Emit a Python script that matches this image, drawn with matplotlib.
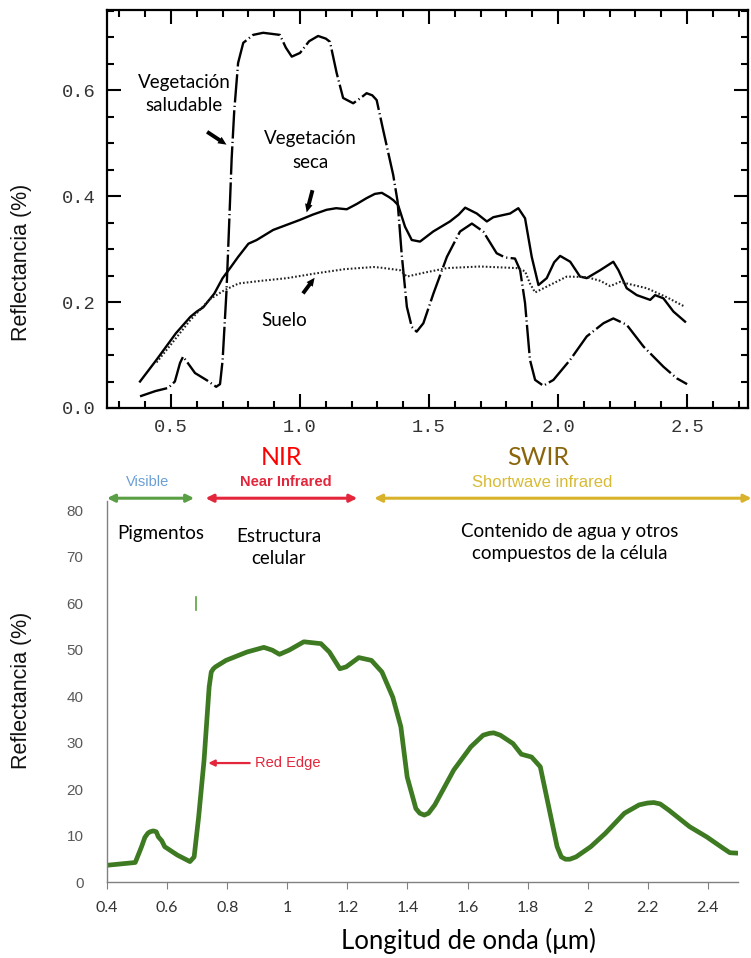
import matplotlib
matplotlib.use('Agg')
import matplotlib.pyplot as plt
from matplotlib.ticker import MultipleLocator, FixedLocator

# ---------------- Top chart data (reflectance fraction) ----------------
veg_sana_x = [0.38, 0.44, 0.49, 0.515, 0.535, 0.547, 0.565, 0.593, 0.64, 0.675, 0.69, 0.70,
              0.715, 0.724, 0.735, 0.745, 0.76, 0.78, 0.818, 0.857, 0.89, 0.922, 0.945,
              0.968, 1.0, 1.035, 1.07, 1.1, 1.116, 1.142, 1.167, 1.206, 1.235, 1.258, 1.28,
              1.297, 1.322, 1.361, 1.378, 1.394, 1.414, 1.433, 1.452, 1.478, 1.517, 1.569,
              1.62, 1.666, 1.71, 1.762, 1.795, 1.833, 1.853, 1.872, 1.891, 1.911, 1.943,
              1.982, 2.047, 2.111, 2.176, 2.214, 2.266, 2.331, 2.408, 2.46, 2.5]
veg_sana_y = [0.022, 0.032, 0.038, 0.05, 0.085, 0.097, 0.085, 0.066, 0.052, 0.040, 0.045, 0.09,
              0.22, 0.33, 0.47, 0.56, 0.651, 0.689, 0.704, 0.708, 0.706, 0.704, 0.68,
              0.663, 0.67, 0.692, 0.702, 0.697, 0.691, 0.632, 0.585, 0.575, 0.585, 0.594, 0.59,
              0.581, 0.525, 0.44, 0.39, 0.29, 0.191, 0.153, 0.144, 0.16, 0.216, 0.285,
              0.333, 0.348, 0.333, 0.292, 0.284, 0.282, 0.26, 0.198, 0.091, 0.053, 0.042,
              0.053, 0.091, 0.135, 0.16, 0.169, 0.157, 0.116, 0.078, 0.056, 0.045]

veg_seca_x = [0.38, 0.444, 0.519, 0.575, 0.60, 0.625, 0.668, 0.70, 0.729, 0.76, 0.80, 0.832,
              0.896, 1.0, 1.05, 1.103, 1.14, 1.181, 1.22, 1.258, 1.29, 1.317, 1.345, 1.362,
              1.38, 1.407, 1.433, 1.465, 1.516, 1.581, 1.615, 1.64, 1.685, 1.724, 1.749,
              1.814, 1.846, 1.872, 1.898, 1.924, 1.956, 1.985, 2.008, 2.047, 2.085, 2.111,
              2.163, 2.214, 2.234, 2.266, 2.305, 2.357, 2.376, 2.408, 2.447, 2.492]
veg_seca_y = [0.05, 0.091, 0.141, 0.172, 0.182, 0.19, 0.216, 0.245, 0.264, 0.285, 0.31, 0.317,
              0.336, 0.355, 0.365, 0.374, 0.377, 0.375, 0.385, 0.396, 0.404, 0.406, 0.398, 0.392,
              0.383, 0.342, 0.317, 0.314, 0.333, 0.352, 0.365, 0.378, 0.367, 0.352, 0.36,
              0.367, 0.377, 0.358, 0.285, 0.232, 0.245, 0.275, 0.287, 0.276, 0.248, 0.245,
              0.26, 0.276, 0.26, 0.226, 0.213, 0.204, 0.213, 0.207, 0.182, 0.163]

suelo_x = [0.444, 0.5, 0.575, 0.65, 0.706, 0.762, 0.85, 0.949, 1.061, 1.173, 1.285, 1.31,
           1.388, 1.414, 1.478, 1.569, 1.698, 1.84, 1.872, 1.891, 1.911, 1.956, 2.034, 2.111,
           2.163, 2.202, 2.24, 2.344, 2.421, 2.492]
suelo_y = [0.086, 0.12, 0.166, 0.205, 0.222, 0.235, 0.24, 0.245, 0.254, 0.262, 0.266, 0.265,
           0.26, 0.248, 0.255, 0.264, 0.267, 0.264, 0.258, 0.235, 0.218, 0.229, 0.248, 0.247,
           0.24, 0.23, 0.238, 0.226, 0.209, 0.191]

top_xticks = [0.5, 1.0, 1.5, 2.0, 2.5]
top_xticklabels = ['0.5', '1.0', '1.5', '2.0', '2.5']
top_yticks = [0.0, 0.2, 0.4, 0.6]
top_yticklabels = ['0.0', '0.2', '0.4', '0.6']

# ---------------- Bottom chart data (reflectance %) ----------------
hoja_x = [0.4, 0.494, 0.515, 0.526, 0.536, 0.543, 0.554, 0.564, 0.571, 0.582, 0.592, 0.634,
          0.676, 0.69, 0.705, 0.723, 0.74, 0.747, 0.754, 0.761, 0.796, 0.866, 0.922, 0.95,
          0.974, 1.006, 1.055, 1.112, 1.14, 1.175, 1.196, 1.238, 1.28, 1.315, 1.351, 1.378,
          1.399, 1.428, 1.441, 1.456, 1.47, 1.491, 1.554, 1.611, 1.652, 1.673, 1.687, 1.709,
          1.751, 1.779, 1.813, 1.842, 1.87, 1.898, 1.912, 1.926, 1.94, 1.961, 2.01, 2.059,
          2.122, 2.171, 2.199, 2.22, 2.241, 2.269, 2.339, 2.396, 2.452, 2.473, 2.5]
hoja_y = [3.6, 4.2, 7.6, 9.6, 10.5, 10.8, 11.0, 10.8, 9.7, 8.9, 7.6, 5.8,
          4.4, 5.4, 14.0, 26.2, 42.0, 45.2, 45.9, 46.3, 47.7, 49.5, 50.5, 49.9,
          49.0, 49.9, 51.7, 51.3, 49.5, 45.9, 46.3, 48.3, 47.7, 45.2, 39.8, 33.4,
          22.6, 15.8, 14.8, 14.4, 14.8, 16.6, 24.1, 29.1, 31.6, 32.0, 32.1, 31.6,
          29.8, 27.5, 26.9, 24.8, 16.2, 7.6, 5.4, 4.9, 4.9, 5.4, 7.6, 10.5,
          14.8, 16.6, 17.0, 17.1, 16.8, 15.5, 11.9, 9.7, 7.2, 6.3, 6.2]

bot_xticks = [0.4, 0.6, 0.8, 1.0, 1.2, 1.4, 1.6, 1.8, 2.0, 2.2, 2.4]
bot_xticklabels = ['0.4', '0.6', '0.8', '1', '1.2', '1.4', '1.6', '1.8', '2', '2.2', '2.4']
bot_yticks = [0, 10, 20, 30, 40, 50, 60, 70, 80]

W, H = 751, 958
fig = plt.figure(figsize=(W / 100, H / 100), dpi=100)

# ================= TOP CHART =================
ax1 = fig.add_axes([107 / W, 1 - 408 / H, 641 / W, 398 / H])
ax1.set_xlim(0.252, 2.736)
ax1.set_ylim(0, 0.751)

ax1.plot(veg_sana_x, veg_sana_y, color='black', lw=1.7,
         linestyle=(0, (12, 1.4, 0.5, 1.4)), solid_joinstyle='round', dash_joinstyle='round')
ax1.plot(veg_seca_x, veg_seca_y, color='black', lw=1.7, solid_joinstyle='round')
ax1.plot(suelo_x, suelo_y, color='#222222', lw=1.5, linestyle=(0, (0.8, 1.0)))

for s in ax1.spines.values():
    s.set_linewidth(1.6)
ax1.xaxis.set_major_locator(FixedLocator(top_xticks))
ax1.set_xticklabels(top_xticklabels)
ax1.xaxis.set_minor_locator(MultipleLocator(0.1))
ax1.yaxis.set_major_locator(FixedLocator(top_yticks))
ax1.set_yticklabels(top_yticklabels)
ax1.yaxis.set_minor_locator(MultipleLocator(0.05))
ax1.tick_params(which='both', direction='in', top=True, right=True, width=1.5, color='black')
ax1.tick_params(which='major', length=10)
ax1.tick_params(which='minor', length=5)
ax1.tick_params(axis='x', which='major', pad=8)
ax1.tick_params(axis='y', which='major', pad=8)
for lab in ax1.get_xticklabels() + ax1.get_yticklabels():
    lab.set_family(['Liberation Mono', 'DejaVu Sans Mono'])
    lab.set_fontsize(13.5)
    lab.set_color('#333333')

lbl_font = ['Lato', 'DejaVu Sans']
ax1.text(0.55, 0.592, 'Vegetación\nsaludable', ha='center', va='center',
         fontsize=13.5, family=lbl_font, linespacing=1.45)
ax1.text(1.042, 0.486, 'Vegetación\nseca', ha='center', va='center',
         fontsize=13.5, family=lbl_font, linespacing=1.45)
ax1.text(0.94, 0.166, 'Suelo', ha='center', va='center', fontsize=13.5, family=lbl_font)

arrow_kw = dict(arrowstyle='simple,head_width=0.55,head_length=0.6,tail_width=0.28',
                color='black', lw=0)
ax1.annotate('', xy=(0.724, 0.494), xytext=(0.631, 0.524), arrowprops=arrow_kw)
ax1.annotate('', xy=(1.023, 0.364), xytext=(1.051, 0.416), arrowprops=arrow_kw)
ax1.annotate('', xy=(1.063, 0.25), xytext=(1.005, 0.212), arrowprops=arrow_kw)

fig.text(22 / W, 1 - 262 / H, 'Reflectancia (%)', rotation=90, ha='center', va='center',
         fontsize=15.5, family=['Liberation Sans', 'DejaVu Sans'], color='#111111')

# ================= BOTTOM CHART =================
ax2 = fig.add_axes([107 / W, 1 - 882 / H, 631 / W, 381 / H])
ax2.set_xlim(0.4, 2.5)
ax2.set_ylim(0, 82)
ax2.plot(hoja_x, hoja_y, color='#3d7a22', lw=3.4, solid_capstyle='round',
         solid_joinstyle='round')

ax2.spines['top'].set_visible(False)
ax2.spines['right'].set_visible(False)
ax2.spines['left'].set_color('#808080')
ax2.spines['bottom'].set_color('#808080')
ax2.spines['left'].set_linewidth(1.0)
ax2.spines['bottom'].set_linewidth(1.0)
ax2.set_xticks(bot_xticks)
ax2.set_xticklabels(bot_xticklabels)
ax2.set_yticks(bot_yticks)
ax2.tick_params(axis='x', direction='out', length=5, color='#808080', pad=9)
ax2.tick_params(axis='y', length=0, pad=17)
for lab in ax2.get_xticklabels():
    lab.set_family(['Lato', 'DejaVu Sans'])
    lab.set_fontsize(11.5)
    lab.set_color('#333333')
for lab in ax2.get_yticklabels():
    lab.set_family(['Liberation Sans', 'DejaVu Sans'])
    lab.set_fontsize(11)
    lab.set_color('#595959')

# small green vertical mark
ax2.plot([0.696, 0.696], [58.6, 61.4], color='#5aa33f', lw=1.2, clip_on=False)

# band arrows
band_y = 82.6
ax2.annotate('', xy=(0.4, band_y), xytext=(0.69, band_y), annotation_clip=False,
             arrowprops=dict(arrowstyle='<|-|>', color='#5a9e45', lw=2.2,
                             mutation_scale=11, shrinkA=0, shrinkB=0))
ax2.annotate('', xy=(0.728, band_y), xytext=(1.233, band_y), annotation_clip=False,
             arrowprops=dict(arrowstyle='<|-|>', color='#e3263b', lw=2.2,
                             mutation_scale=11, shrinkA=0, shrinkB=0))
ax2.annotate('', xy=(1.289, band_y), xytext=(2.545, band_y), annotation_clip=False,
             arrowprops=dict(arrowstyle='<|-|>', color='#d9b22b', lw=2.2,
                             mutation_scale=11, shrinkA=0, shrinkB=0))

ax2.text(0.535, 86.0, 'Visible', ha='center', va='center', fontsize=10.5,
         family=['Liberation Sans', 'DejaVu Sans'], color='#6a9fd4', clip_on=False)
ax2.text(0.995, 86.0, 'Near Infrared', ha='center', va='center', fontsize=10.5,
         family=['Liberation Sans', 'DejaVu Sans'], color='#e3263b', weight='bold',
         clip_on=False)
ax2.text(1.848, 86.0, 'Shortwave infrared', ha='center', va='center', fontsize=12,
         family=['Liberation Sans', 'DejaVu Sans'], color='#d8bb35', clip_on=False)
ax2.text(0.982, 91.4, 'NIR', ha='center', va='center', fontsize=18,
         family=['Lato', 'DejaVu Sans'], color='#ff0000', clip_on=False)
ax2.text(1.834, 91.4, 'SWIR', ha='center', va='center', fontsize=18,
         family=['Lato', 'DejaVu Sans'], color='#8b650c', clip_on=False)

narrow = ['Liberation Sans Narrow', 'Lato', 'DejaVu Sans']
ax2.text(0.579, 75.0, 'Pigmentos', ha='center', va='center', fontsize=13.5,
         family=narrow, color='black')
ax2.text(0.972, 72.0, 'Estructura\ncelular', ha='center', va='center', fontsize=13.5,
         family=narrow, color='black', linespacing=1.35)
ax2.text(1.941, 73.1, 'Contenido de agua y otros\ncompuestos de la célula', ha='center',
         va='center', fontsize=13.5, family=narrow, color='black', linespacing=1.35)

ax2.annotate('', xy=(0.737, 25.6), xytext=(0.875, 25.6),
             arrowprops=dict(arrowstyle='-|>', color='#e3263b', lw=1.6,
                             mutation_scale=9, shrinkA=0, shrinkB=0))
ax2.text(0.893, 25.6, 'Red Edge', ha='left', va='center', fontsize=10.5,
         family=['Liberation Sans', 'DejaVu Sans'], color='#e3263b')

fig.text(22 / W, 1 - 690 / H, 'Reflectancia (%)', rotation=90, ha='center', va='center',
         fontsize=15.5, family=['Liberation Sans', 'DejaVu Sans'], color='#111111')
fig.text(468 / W, 1 - 941 / H, 'Longitud de onda (μm)', ha='center', va='center',
         fontsize=18.5, family=['Lato', 'DejaVu Sans'], color='black')

fig.savefig('out.png', dpi=100)
